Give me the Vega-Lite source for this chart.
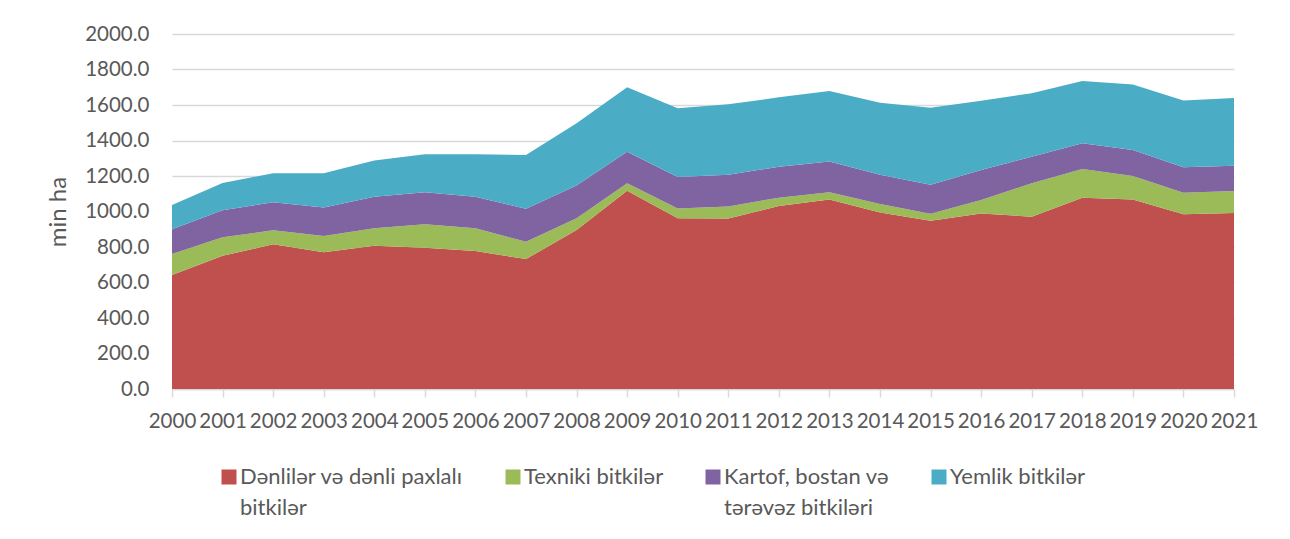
{
  "$schema": "https://vega.github.io/schema/vega-lite/v6.json",
  "width": 1062,
  "height": 355,
  "autosize": {"type": "none"},
  "padding": {"left": 172, "top": 34, "right": 56, "bottom": 150},
  "background": "#ffffff",
  "data": {
    "values": [
      {"year": "2000", "Dənlilər və dənli paxlalı bitkilər": 642, "Texniki bitkilər": 119, "Kartof, bostan və tərəvəz bitkiləri": 139, "Yemlik bitkilər": 137},
      {"year": "2001", "Dənlilər və dənli paxlalı bitkilər": 751, "Texniki bitkilər": 104, "Kartof, bostan və tərəvəz bitkiləri": 152, "Yemlik bitkilər": 154},
      {"year": "2002", "Dənlilər və dənli paxlalı bitkilər": 815, "Texniki bitkilər": 79, "Kartof, bostan və tərəvəz bitkiləri": 158, "Yemlik bitkilər": 163},
      {"year": "2003", "Dənlilər və dənli paxlalı bitkilər": 770, "Texniki bitkilər": 92, "Kartof, bostan və tərəvəz bitkiləri": 161, "Yemlik bitkilər": 192},
      {"year": "2004", "Dənlilər və dənli paxlalı bitkilər": 807, "Texniki bitkilər": 98, "Kartof, bostan və tərəvəz bitkiləri": 178, "Yemlik bitkilər": 205},
      {"year": "2005", "Dənlilər və dənli paxlalı bitkilər": 796, "Texniki bitkilər": 132, "Kartof, bostan və tərəvəz bitkiləri": 180, "Yemlik bitkilər": 214},
      {"year": "2006", "Dənlilər və dənli paxlalı bitkilər": 777, "Texniki bitkilər": 128, "Kartof, bostan və tərəvəz bitkiləri": 178, "Yemlik bitkilər": 239},
      {"year": "2007", "Dənlilər və dənli paxlalı bitkilər": 732, "Texniki bitkilər": 98, "Kartof, bostan və tərəvəz bitkiləri": 186, "Yemlik bitkilər": 302},
      {"year": "2008", "Dənlilər və dənli paxlalı bitkilər": 896, "Texniki bitkilər": 66, "Kartof, bostan və tərəvəz bitkiləri": 185, "Yemlik bitkilər": 350},
      {"year": "2009", "Dənlilər və dənli paxlalı bitkilər": 1117, "Texniki bitkilər": 42, "Kartof, bostan və tərəvəz bitkiləri": 178, "Yemlik bitkilər": 363},
      {"year": "2010", "Dənlilər və dənli paxlalı bitkilər": 962, "Texniki bitkilər": 55, "Kartof, bostan və tərəvəz bitkiləri": 177, "Yemlik bitkilər": 387},
      {"year": "2011", "Dənlilər və dənli paxlalı bitkilər": 960, "Texniki bitkilər": 68, "Kartof, bostan və tərəvəz bitkiləri": 179, "Yemlik bitkilər": 397},
      {"year": "2012", "Dənlilər və dənli paxlalı bitkilər": 1031, "Texniki bitkilər": 47, "Kartof, bostan və tərəvəz bitkiləri": 174, "Yemlik bitkilər": 391},
      {"year": "2013", "Dənlilər və dənli paxlalı bitkilər": 1067, "Texniki bitkilər": 41, "Kartof, bostan və tərəvəz bitkiləri": 174, "Yemlik bitkilər": 397},
      {"year": "2014", "Dənlilər və dənli paxlalı bitkilər": 995, "Texniki bitkilər": 47, "Kartof, bostan və tərəvəz bitkiləri": 165, "Yemlik bitkilər": 406},
      {"year": "2015", "Dənlilər və dənli paxlalı bitkilər": 948, "Texniki bitkilər": 40, "Kartof, bostan və tərəvəz bitkiləri": 163, "Yemlik bitkilər": 434},
      {"year": "2016", "Dənlilər və dənli paxlalı bitkilər": 989, "Texniki bitkilər": 76, "Kartof, bostan və tərəvəz bitkiləri": 169, "Yemlik bitkilər": 390},
      {"year": "2017", "Dənlilər və dənli paxlalı bitkilər": 971, "Texniki bitkilər": 188, "Kartof, bostan və tərəvəz bitkiləri": 150, "Yemlik bitkilər": 357},
      {"year": "2018", "Dənlilər və dənli paxlalı bitkilər": 1078, "Texniki bitkilər": 161, "Kartof, bostan və tərəvəz bitkiləri": 145, "Yemlik bitkilər": 351},
      {"year": "2019", "Dənlilər və dənli paxlalı bitkilər": 1067, "Texniki bitkilər": 133, "Kartof, bostan və tərəvəz bitkiləri": 147, "Yemlik bitkilər": 368},
      {"year": "2020", "Dənlilər və dənli paxlalı bitkilər": 984, "Texniki bitkilər": 122, "Kartof, bostan və tərəvəz bitkiləri": 143, "Yemlik bitkilər": 377},
      {"year": "2021", "Dənlilər və dənli paxlalı bitkilər": 992, "Texniki bitkilər": 123, "Kartof, bostan və tərəvəz bitkiləri": 143, "Yemlik bitkilər": 382}
    ]
  },
  "transform": [
    {"fold": ["Dənlilər və dənli paxlalı bitkilər", "Texniki bitkilər", "Kartof, bostan və tərəvəz bitkiləri", "Yemlik bitkilər"], "as": ["series", "value"]},
    {"calculate": "indexof(['Dənlilər və dənli paxlalı bitkilər', 'Texniki bitkilər', 'Kartof, bostan və tərəvəz bitkiləri', 'Yemlik bitkilər'], datum.series)", "as": "ord"}
  ],
  "mark": {"type": "area", "line": false, "strokeWidth": 0},
  "encoding": {
    "x": {
      "field": "year",
      "type": "ordinal",
      "scale": {"type": "point", "padding": 0},
      "axis": {
        "title": null,
        "labelAngle": 0,
        "labelFont": "Lato",
        "labelFontSize": 20.5,
        "labelColor": "#595959",
        "labelPadding": 14,
        "tickSize": 8,
        "tickColor": "#D9D9D9",
        "tickWidth": 1.5,
        "domainColor": "#D9D9D9",
        "domainWidth": 1.5,
        "grid": false,
        "labelOverlap": false
      }
    },
    "y": {
      "field": "value",
      "type": "quantitative",
      "stack": "zero",
      "scale": {"domain": [0, 2000], "nice": false},
      "axis": {
        "title": "min ha",
        "titleFont": "Lato",
        "titleFontSize": 24,
        "titleFontWeight": "normal",
        "titleColor": "#595959",
        "titlePadding": 14,
        "values": [0, 200, 400, 600, 800, 1000, 1200, 1400, 1600, 1800, 2000],
        "format": ".1f",
        "labelFont": "Lato",
        "labelFontSize": 20.5,
        "labelColor": "#595959",
        "labelPadding": 23,
        "ticks": false,
        "domain": false,
        "grid": true,
        "gridColor": "#D9D9D9",
        "gridWidth": 1.5
      }
    },
    "color": {
      "field": "series",
      "type": "nominal",
      "sort": ["Dənlilər və dənli paxlalı bitkilər", "Texniki bitkilər", "Kartof, bostan və tərəvəz bitkiləri", "Yemlik bitkilər"],
      "scale": {
        "domain": ["Dənlilər və dənli paxlalı bitkilər", "Texniki bitkilər", "Kartof, bostan və tərəvəz bitkiləri", "Yemlik bitkilər"],
        "range": ["#C0504D", "#9BBB59", "#8064A2", "#4BACC6"]
      },
      "legend": {
        "title": null,
        "orient": "none",
        "legendX": 46,
        "legendY": 432,
        "padding": 0,
        "direction": "horizontal",
        "symbolType": "square",
        "symbolSize": 225,
        "symbolStrokeWidth": 0,
        "symbolOpacity": 1,
        "labelFont": "Lato",
        "labelFontSize": 22,
        "labelColor": "#595959",
        "labelLimit": 400,
        "labelBaseline": "alphabetic",
        "labelOffset": 0,
        "columnPadding": 38,
        "labelExpr": "datum.label == 'Dənlilər və dənli paxlalı bitkilər' ? ['Dənlilər və dənli paxlalı', 'bitkilər'] : datum.label == 'Kartof, bostan və tərəvəz bitkiləri' ? ['Kartof, bostan və', 'tərəvəz bitkiləri'] : [datum.label, ' ']",
        "encode": {"labels": {"update": {"dy": {"value": 7}}}}
      }
    },
    "order": {"field": "ord", "type": "quantitative"}
  },
  "config": {
    "view": {"stroke": null},
    "style": {"guide-label": {"lineHeight": 31}}
  }
}
